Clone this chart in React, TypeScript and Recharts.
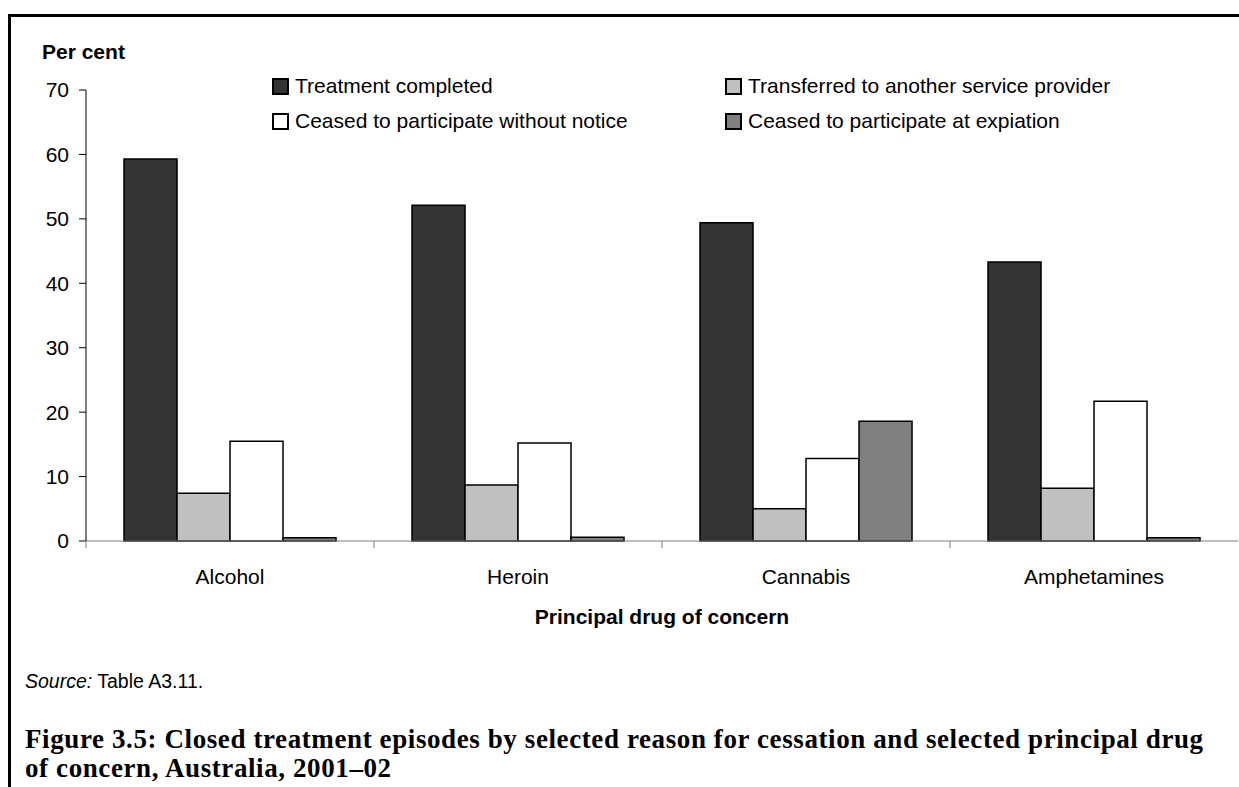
import React from "react";
import { Bar, BarChart, Legend, XAxis, YAxis } from "recharts";

const drugs = ["Alcohol", "Heroin", "Cannabis", "Amphetamines"];
const treatmentCompleted = [59.3, 52.1, 49.4, 43.3];
const transferred = [7.4, 8.7, 5.0, 8.2];
const ceasedWithoutNotice = [15.5, 15.2, 12.8, 21.7];
const ceasedAtExpiation = [0.5, 0.6, 18.6, 0.5];
const yTicks = [0, 10, 20, 30, 40, 50, 60, 70];

const series = [
  { key: "completed", name: "Treatment completed", fill: "#333333" },
  { key: "transferred", name: "Transferred to another service provider", fill: "#c0c0c0" },
  { key: "noNotice", name: "Ceased to participate without notice", fill: "#ffffff" },
  { key: "expiation", name: "Ceased to participate at expiation", fill: "#808080" },
];

const data = drugs.map((name, i) => ({
  name,
  completed: treatmentCompleted[i],
  transferred: transferred[i],
  noNotice: ceasedWithoutNotice[i],
  expiation: ceasedAtExpiation[i],
}));

const sans = "'Liberation Sans', Arial, sans-serif";
const fs = 21;

// category label plus a tick mark on the left edge of each band
function CategoryTick(props: any) {
  const { x, y, payload } = props;
  const half = payload && payload.offset ? payload.offset : 144;
  return (
    <g>
      <line x1={x - half} x2={x - half} y1={y} y2={y + 7} stroke="#808080" strokeWidth={1} />
      <text x={x} y={y + 43} textAnchor="middle" fontSize={fs} fontFamily={sans} fill="#000">
        {payload.value}
      </text>
    </g>
  );
}

function LegendBox() {
  // two columns, two rows
  const cols = [272, 725];
  const rows = [86, 121];
  return (
    <div style={{ position: "relative", width: 1000, height: 60 }}>
      {series.map((s, i) => (
        <div
          key={s.key}
          style={{
            position: "absolute",
            left: cols[i % 2] - 272,
            top: rows[Math.floor(i / 2)] - 86,
            display: "flex",
            alignItems: "center",
            height: 0,
            fontFamily: sans,
            fontSize: fs,
            color: "#000",
            whiteSpace: "nowrap",
          }}
        >
          <span
            style={{
              display: "inline-block",
              width: 13,
              height: 13,
              background: s.fill,
              border: "2px solid #000",
              marginRight: 6,
            }}
          />
          {s.name}
        </div>
      ))}
    </div>
  );
}

export default function App() {
  return (
    <div
      style={{
        position: "absolute",
        left: 0,
        top: 0,
        width: 1239,
        height: 787,
        background: "#fff",
        overflow: "hidden",
      }}
    >
      <div
        style={{
          position: "absolute",
          left: 8,
          top: 14,
          width: 1300,
          height: 800,
          borderLeft: "3px solid #000",
          borderTop: "3px solid #000",
        }}
      />
      <div
        style={{
          position: "absolute",
          left: 42,
          top: 40,
          fontFamily: sans,
          fontSize: fs,
          fontWeight: "bold",
        }}
      >
        Per cent
      </div>
      <div style={{ position: "absolute", left: 0, top: 0 }}>
        <BarChart
          width={1239}
          height={600}
          data={data}
          margin={{ top: 90, right: 1, bottom: 29, left: 0 }}
          barCategoryGap="13.2%"
          barGap={0}
        >
          <XAxis
            dataKey="name"
            height={30}
            axisLine={{ stroke: "#808080", strokeWidth: 1 }}
            tickLine={false}
            tickSize={0}
            tickMargin={0}
            tick={<CategoryTick />}
            interval={0}
          />
          <YAxis
            width={86}
            domain={[0, 70]}
            ticks={yTicks}
            interval={0}
            axisLine={{ stroke: "#000", strokeWidth: 1 }}
            tickLine={{ stroke: "#000", strokeWidth: 1 }}
            tickSize={7}
            tickMargin={10}
            tick={{ fontSize: fs, fontFamily: sans, fill: "#000" }}
          />
          <Legend
            layout="horizontal"
            verticalAlign="middle"
            align="center"
            content={<LegendBox />}
            wrapperStyle={{ position: "absolute", left: 272, top: 86, width: 1000, height: 60 }}
          />
          {series.map((s) => (
            <Bar
              key={s.key}
              dataKey={s.key}
              name={s.name}
              fill={s.fill}
              stroke="#000"
              strokeWidth={1.5}
              isAnimationActive={false}
            />
          ))}
        </BarChart>
      </div>
      <div
        style={{
          position: "absolute",
          left: 86,
          width: 1152,
          top: 605,
          textAlign: "center",
          fontFamily: sans,
          fontSize: fs,
          fontWeight: "bold",
        }}
      >
        Principal drug of concern
      </div>
      <div
        style={{
          position: "absolute",
          left: 25,
          top: 670,
          fontFamily: sans,
          fontSize: 19.5,
        }}
      >
        <i>Source:</i> Table A3.11.
      </div>
      <div
        style={{
          position: "absolute",
          left: 25,
          top: 725,
          width: 1214,
          whiteSpace: "nowrap",
          fontFamily: "'Liberation Serif', 'Times New Roman', serif",
          fontSize: 27,
          letterSpacing: 0.6,
          fontWeight: "bold",
          lineHeight: "29px",
        }}
      >
        Figure 3.5: Closed treatment episodes by selected reason for cessation and selected principal drug
        <br />
        of concern, Australia, 2001–02
      </div>
    </div>
  );
}
